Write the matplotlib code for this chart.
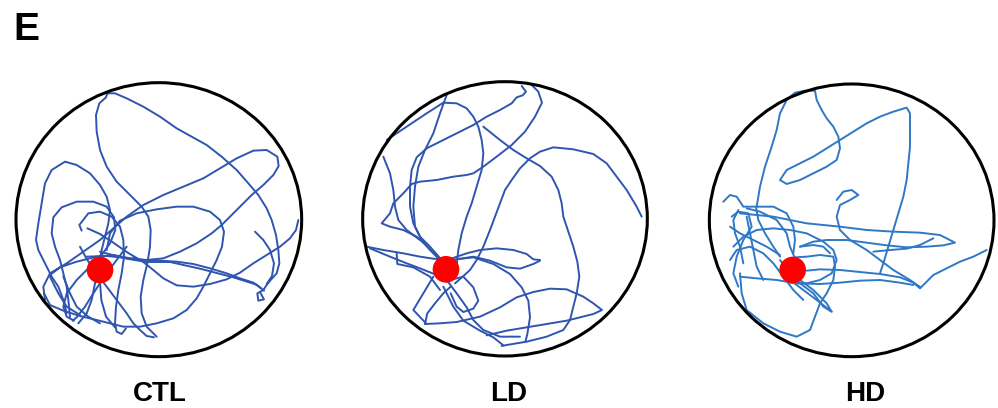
import matplotlib
matplotlib.use("Agg")
import matplotlib.pyplot as plt
from matplotlib.patches import Ellipse, Circle

W, H = 998, 408

labels = ["CTL", "LD", "HD"]
panel_letter = "E"

# ---- trajectories (units: 3x pixels of each panel's crop) ----
ctl_paths = [
    [(470,830),(455,815),(440,800),(425,760),(422,710),(430,660),(442,610),(450,560),(452,510),(445,470),(425,440),(390,405),(350,365),(320,320),(300,270),(290,215),(288,165),(298,130),(318,112),(322,100),(345,100),(380,115),(430,140),(480,170),(530,205),(575,230),(620,255),(665,290),(710,330),(745,370),(775,405),(800,445),(815,480),(828,525),(835,570),(838,610),(830,640),(812,660),(800,675),(790,690),(772,700),(775,722),(792,718),(782,700)],
    [(135,720),(130,680),(150,640),(200,610),(250,575),(300,540),(340,505),(380,470),(430,435),(490,405),(550,380),(610,355),(660,325),(710,295),(760,272),(800,270),(832,290),(836,318),(820,345),(790,375),(755,405),(720,440),(690,470),(665,495),(635,520),(590,550),(540,575),(490,595),(440,600),(390,595),(340,585),(290,590),(230,605),(180,622),(150,645)],
    [(320,570),(330,520),(360,482),(410,460),(470,448),(530,440),(580,440),(630,455),(660,480),(672,515),(666,560),(650,600),(630,640),(610,680),(590,715),(560,750),(520,775),(470,790),(420,800),(370,800),(330,790),(290,780),(240,768),(190,752),(150,735),(132,700)],
    [(260,590),(320,588),(380,594),(430,600),(480,602),(530,605),(580,612),(630,625),(680,640),(720,655),(760,668),(782,684)],
    [(300,575),(380,596),(440,606),(510,606),(600,626),(700,652),(770,674),(792,692)],
    [(895,480),(888,510),(870,535),(840,560),(800,585),(760,610),(720,638),(680,658),(630,672),(580,680),(530,676),(490,655),(460,630),(430,606),(400,590)],
    [(765,515),(790,540),(810,570),(822,610),(816,648),(800,672)],
    [(200,760),(190,720),(175,680),(155,650),(135,610),(115,570),(108,540),(115,490),(125,430),(135,370),(155,330),(195,305),(230,315),(270,340),(300,375),(320,410),(330,450),(325,490),(315,530),(305,570),(295,620),(285,670),(275,720),(260,760),(235,790)],
    [(210,770),(205,720),(200,680),(190,640),(180,600),(165,560),(155,520),(160,472),(185,442),(230,425),(280,425),(320,440),(342,472),(346,510),(330,550),(305,585),(270,620),(230,660),(200,700),(190,740),(200,770),(222,782)],
    [(245,512),(238,495),(265,460),(300,455),(335,470),(360,500),(370,540),(372,590),(365,640),(355,690),(348,740),(345,790),(350,815),(365,822),(378,805)],
    [(262,505),(300,522),(340,548),(380,576),(420,600)],
    [(380,560),(350,600),(320,640),(300,670),(280,700),(255,740),(230,772),(218,782)],
    [(240,560),(262,600),(290,640),(320,680),(350,720),(380,760),(400,790),(420,810),(440,828),(462,832)],
    [(300,665),(304,720),(318,770),(345,802)],
    [(150,650),(175,700),(200,740),(240,765)],
    [(190,650),(210,700),(230,740),(265,770),(300,790)],
]

ld_paths = [
    [(905,470),(890,440),(860,390),(830,350),(800,310),(760,282),(700,268),(640,262),(600,275),(570,295),(540,325),(515,360),(495,390),(480,430),(465,470),(450,510),(430,560),(410,600),(390,630),(368,650),(345,670)],
    [(430,200),(480,240),(520,270),(560,295),(600,318),(635,350),(655,390),(665,430),(670,470),(685,515),(700,560),(712,605),(718,650),(710,700),(700,740),(690,780),(670,810),(620,830),(560,845),(500,855),(485,858)],
    [(140,240),(200,200),(260,160),(310,128),(350,130),(380,145),(400,170),(415,200),(425,240),(430,280),(425,330),(410,380),(395,430),(380,470),(365,520),(355,570),(350,615)],
    [(320,105),(300,160),(280,220),(255,270),(235,320),(225,380),(220,440),(225,500),(245,540),(270,570),(300,600)],
    [(545,78),(558,95),(548,106),(530,112),(515,130),(480,150),(440,170),(400,195),(350,220),(300,245),(260,265),(230,292),(215,330),(210,380),(210,440),(220,490),(240,530),(270,560),(305,600)],
    [(575,75),(595,95),(606,128),(585,170),(555,215),(515,255),(470,290),(430,320),(400,340),(380,345),(340,350),(290,360),(240,365),(215,372),(190,400),(160,430),(150,460),(125,490),(150,500),(190,510),(230,530),(262,560),(292,590),(315,620)],
    [(130,290),(150,340),(160,390),(165,440),(175,480),(200,510),(240,540)],
    [(80,560),(130,570),(190,580),(240,590),(280,596),(320,600)],
    [(90,565),(150,590),(200,610),(240,625),(290,645),(320,665)],
    [(170,580),(172,612),(220,622),(270,650),(300,690)],
    [(600,600),(580,598),(560,582),(520,570),(470,565),(420,570),(380,580),(345,592),(320,602)],
    [(350,598),(400,590),(450,602),(500,622),(540,626),(580,612),(600,602)],
    [(255,792),(262,760),(285,730),(310,700),(332,680)],
    [(255,792),(300,790),(350,786),(420,770),(480,742),(530,712),(580,696),(630,686),(680,688),(730,710),(760,730),(786,750),(760,762),(720,772),(680,782),(620,792),(560,802),(500,812),(440,826)],
    [(320,660),(350,700),(380,742),(400,780),(430,810),(480,830),(540,830)],
    [(310,680),(340,740),(370,782),(420,812),(460,832),(490,856)],
    [(330,660),(370,650),(400,682),(415,722),(400,746),(370,756),(350,740),(332,700)],
    [(330,600),(400,592),(460,612),(510,642),(545,682),(565,722),(570,772),(562,822),(556,846)],
    [(280,650),(250,700),(220,750),(258,790)],
]

hd_paths = [
    [(230,440),(240,380),(255,320),(275,260),(290,210),(300,160),(320,120),(345,98),(375,92),(405,92),(410,120),(425,150),(440,175),(460,200),(475,230),(480,265),(470,300),(440,320),(400,340),(360,360),(320,372),(300,360),(320,330),(360,310),(400,290),(440,265),(480,240),(520,215),(560,190),(600,170),(640,155),(680,143),(690,160),(690,210),(690,260),(685,310),(680,360),(670,410),(655,460),(640,510),(625,560),(610,610),(600,640)],
    [(300,590),(280,560),(255,520),(235,480),(228,440)],
    [(130,425),(150,405),(170,410),(190,440),(230,440),(280,440),(320,460),(340,500),(345,540),(340,580)],
    [(180,460),(280,470),(380,490),(480,500),(560,510),(640,515),(720,518),(780,525),(825,548),(790,556),(740,560),(680,562),(620,556),(560,548),(500,540),(440,540),(400,545),(360,560)],
    [(760,535),(720,555),(680,566),(630,570),(580,575)],
    [(920,570),(880,590),(840,605),(800,625),(760,645),(740,665),(720,685),(700,668),(660,652),(600,642),(540,636),(480,630),(420,628),(380,632)],
    [(470,420),(490,395),(515,390),(535,405),(510,420),(480,435),(470,470),(480,510),(510,540),(560,570),(600,600),(640,630),(690,660),(722,682)],
    [(180,640),(185,700),(200,750),(250,790),(300,815),(350,830),(390,810),(405,770),(420,730),(440,700),(460,660),(465,620),(460,590),(420,585),(380,590),(345,592)],
    [(330,660),(370,690),(410,720),(455,755),(440,730),(400,690),(360,660)],
    [(300,600),(330,640),(360,670),(400,700),(430,740),(455,755)],
    [(150,500),(180,520),(220,540),(260,560),(300,585)],
    [(160,560),(190,530),(230,510),(280,505),(330,510),(380,520),(430,545),(460,570),(470,600),(455,640),(420,660),(380,670),(330,668)],
    [(150,600),(170,570),(210,560),(250,580),(280,610),(310,650),(340,690),(370,720)],
    [(180,650),(230,655),(290,660),(350,670),(420,672),(480,668),(540,662),(600,660),(660,668),(700,675)],
    [(200,470),(210,520),(220,570),(230,620),(250,660)],
    [(175,450),(160,480),(165,520),(180,560),(190,610)],
    [(360,560),(400,555),(430,560),(450,580)],
    [(155,470),(175,455),(205,460),(215,500),(190,540),(170,590),(160,640),(175,680)],
    [(200,445),(240,455),(290,480),(320,520),(330,560),(345,595)],
]

ellipses = [(476.5, 479, 857, 822), (495, 476.5, 854, 823), (515, 481, 854, 818)]
dots = [(300, 630), (318, 628), (338, 630)]
crop_boxes = [(0, 60, 330, 340), (340, 60, 330, 340), (680, 60, 318, 340)]
label_x = [160, 509, 865]
path_sets = [ctl_paths, ld_paths, hd_paths]
line_colors = ["#2f55b0", "#2f55b0", "#2f78c6"]

fig = plt.figure(figsize=(W / 100, H / 100), dpi=100)

for (cx, cy, cw, ch), paths, (ex, ey, ew, eh), (dx, dy), col in zip(
        crop_boxes, path_sets, ellipses, dots, line_colors):
    ax = fig.add_axes([cx / W, 1 - (cy + ch) / H, cw / W, ch / H])
    ax.set_xlim(0, cw * 3)
    ax.set_ylim(ch * 3, 0)
    ax.axis("off")
    for p in paths:
        xs = [q[0] for q in p]
        ys = [q[1] for q in p]
        ax.plot(xs, ys, color=col, lw=1.4, solid_joinstyle="round", solid_capstyle="round", zorder=2)
    ax.add_patch(Ellipse((ex, ey), ew, eh, fill=False, edgecolor="black", lw=2.2, zorder=3))
    ax.add_patch(Circle((dx, dy), 40, facecolor="#ff0000", edgecolor="none", zorder=4))

for lab, lx in zip(labels, label_x):
    fig.text(lx / W, 1 - 401 / H, lab, ha="center", va="baseline",
             fontsize=20, fontweight="bold", family=["Liberation Sans", "DejaVu Sans"])

fig.text(13 / W, 1 - 40 / H, panel_letter, ha="left", va="baseline",
         fontsize=28, fontweight="bold", family=["Liberation Sans", "DejaVu Sans"])

fig.savefig("out.png", dpi=100)
